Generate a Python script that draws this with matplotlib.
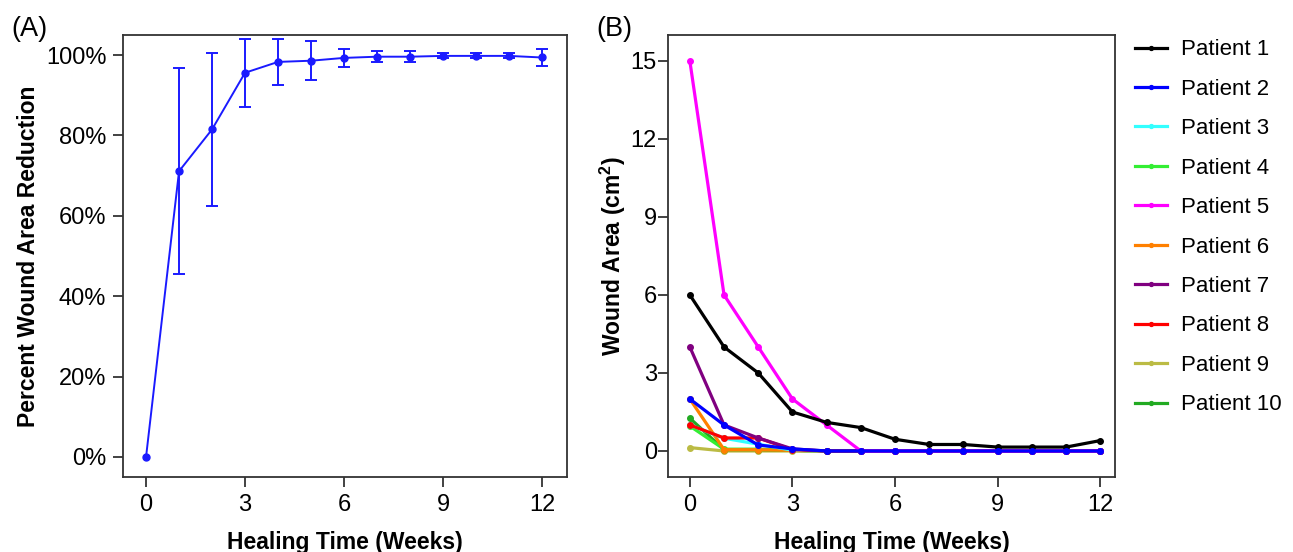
import matplotlib
matplotlib.use('Agg')
import matplotlib.pyplot as plt
from matplotlib.ticker import FuncFormatter

plt.rcParams['font.family'] = ['Liberation Sans', 'DejaVu Sans']
plt.rcParams['mathtext.fontset'] = 'custom'
plt.rcParams['mathtext.rm'] = 'Liberation Sans'
plt.rcParams['mathtext.bf'] = 'Liberation Sans:bold'

weeks = list(range(13))

# panel A: mean percent reduction and SD
mean_red = [0, 71.1, 81.5, 95.6, 98.3, 98.6, 99.3, 99.6, 99.6, 99.8, 99.8, 99.8, 99.4]
sd_red = [0, 25.6, 19.1, 8.4, 5.7, 4.8, 2.3, 1.3, 1.3, 0.6, 0.6, 0.6, 2.1]

# panel B: wound area per patient (cm2)
patients = ['Patient 1', 'Patient 2', 'Patient 3', 'Patient 4', 'Patient 5',
            'Patient 6', 'Patient 7', 'Patient 8', 'Patient 9', 'Patient 10']
colors = ['black', '#0000ff', '#33ffff', '#33ee33', '#ff00ff',
          '#ff8000', '#800080', '#ff0000', '#bbbb44', '#22aa22']
p1 = [6, 4, 3, 1.5, 1.1, 0.9, 0.45, 0.25, 0.25, 0.15, 0.15, 0.15, 0.4]
p2 = [2, 1, 0.23, 0.08, 0, 0, 0, 0, 0, 0, 0, 0, 0]
p3 = [1.0, 0.49, 0.26, 0.03, 0, 0, 0, 0, 0, 0, 0, 0, 0]
p4 = [0.96, 0.07, 0.07, 0.03, 0, 0, 0, 0, 0, 0, 0, 0, 0]
p5 = [15, 6, 4, 2, 1, 0, 0, 0, 0, 0, 0, 0, 0]
p6 = [2, 0.05, 0.05, 0.02, 0, 0, 0, 0, 0, 0, 0, 0, 0]
p7 = [4, 1, 0.5, 0.08, 0, 0, 0, 0, 0, 0, 0, 0, 0]
p8 = [1.0, 0.5, 0.5, 0.05, 0, 0, 0, 0, 0, 0, 0, 0, 0]
p9 = [0.13, 0, 0, 0, 0, 0, 0, 0, 0, 0, 0, 0, 0]
p10 = [1.26, 0.05, 0.05, 0.02, 0, 0, 0, 0, 0, 0, 0, 0, 0]
areas = [p1, p2, p3, p4, p5, p6, p7, p8, p9, p10]

fig = plt.figure(figsize=(12.93, 5.52), dpi=100)
axA = fig.add_axes([0.0951, 0.1359, 0.3434, 0.8007])
axB = fig.add_axes([0.5166, 0.1359, 0.3457, 0.8007])

for ax in (axA, axB):
    for s in ax.spines.values():
        s.set_color('#333333')
        s.set_linewidth(1.3)
    ax.tick_params(labelsize=17, length=7, width=1.3, color='#333333', pad=5)
    ax.set_xticks([0, 3, 6, 9, 12])
axB.tick_params(axis='y', pad=1)

blue = '#1a1aff'
axA.plot(weeks, mean_red, color=blue, lw=1.4, marker='o', ms=5)
eb_x = [w for w, s in zip(weeks, sd_red) if s > 0]
eb_y = [m for m, s in zip(mean_red, sd_red) if s > 0]
eb_e = [s for s in sd_red if s > 0]
axA.errorbar(eb_x, eb_y, yerr=eb_e, fmt='none', ecolor=blue,
             capsize=4.5, capthick=1.4, elinewidth=1.4)
axA.set_xlim(-0.7, 12.76)
axA.set_ylim(-5, 105)
axA.set_yticks([0, 20, 40, 60, 80, 100])
axA.yaxis.set_major_formatter(FuncFormatter(lambda v, p: '%d%%' % v))
axA.set_xlabel('Healing Time (Weeks)', fontsize=16.5, fontweight='bold', labelpad=11)
axA.set_ylabel('Percent Wound Area Reduction', fontsize=16.5, fontweight='bold', labelpad=4)

order = [8, 9, 3, 5, 2, 7, 6, 4, 0, 1]
lines = {}
for i in order:
    ln, = axB.plot(weeks, areas[i], color=colors[i], lw=2.3, marker='o', ms=4,
                   label=patients[i])
    lines[i] = ln
axB.set_xlim(-0.64, 12.43)
axB.set_ylim(-1, 16)
axB.set_yticks([0, 3, 6, 9, 12, 15])
axB.set_xlabel('Healing Time (Weeks)', fontsize=16.5, fontweight='bold', labelpad=11)
axB.set_ylabel(r'Wound Area (cm$\mathbf{^2}$)', fontsize=16.5, fontweight='bold', labelpad=2)

fig.legend([lines[i] for i in range(10)], patients, loc='upper left',
           bbox_to_anchor=(0.862, 0.965), frameon=False, fontsize=16,
           handlelength=1.45, handletextpad=0.65, labelspacing=0.83, markerscale=0.7)

fig.text(0.009, 0.935, '(A)', fontsize=19.5)
fig.text(0.461, 0.935, '(B)', fontsize=19.5)

fig.savefig('out.png', dpi=100)
